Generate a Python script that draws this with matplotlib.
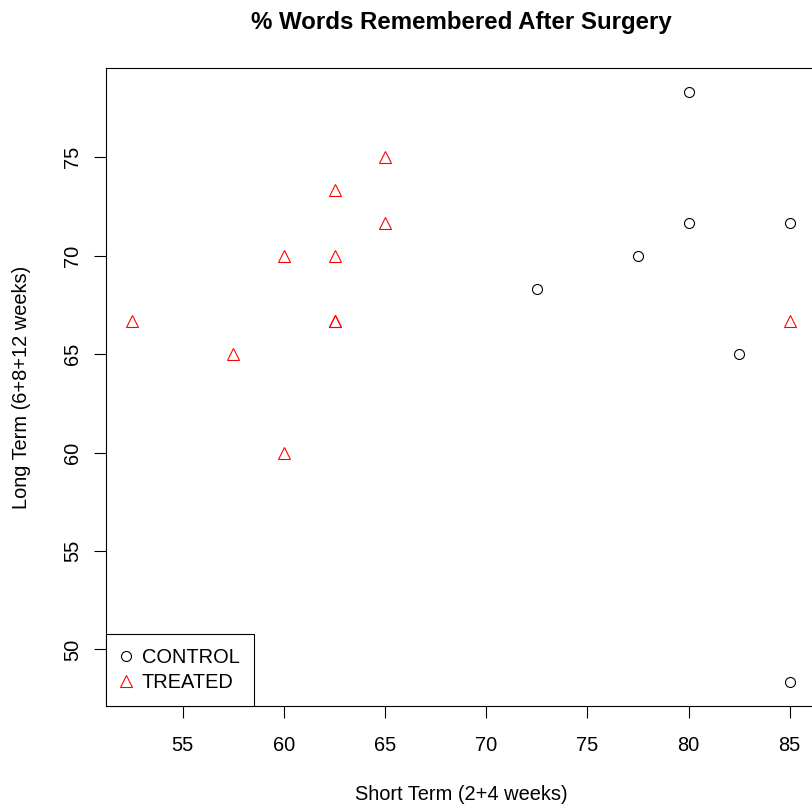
import matplotlib
matplotlib.use("Agg")
import matplotlib.pyplot as plt
from matplotlib.lines import Line2D

plt.rcParams['font.family'] = ['Liberation Sans', 'DejaVu Sans']

# control group (short term, long term)
control_short = [80, 80, 85, 77.5, 72.5, 82.5, 85]
control_long = [78.33, 71.67, 71.67, 70, 68.33, 65, 48.33]

# treated group
treated_short = [65, 62.5, 65, 60, 62.5, 52.5, 62.5, 62.5, 57.5, 60, 85]
treated_long = [75, 73.33, 71.67, 70, 70, 66.67, 66.67, 66.67, 65, 60, 66.67]

W, H = 812, 808
fig = plt.figure(figsize=(W / 72, H / 72), dpi=72)
ax = fig.add_axes([106 / W, 1 - 706 / H, (816 - 106) / W, (706 - 68) / H])

ax.plot(control_short, control_long, linestyle='none', marker='o', markersize=10,
        markerfacecolor='none', markeredgecolor='black', markeredgewidth=1.1)
ax.plot(treated_short, treated_long, linestyle='none', marker='^', markersize=12,
        markerfacecolor='none', markeredgecolor='red', markeredgewidth=1.1)

# R style 4% padding
allx = control_short + treated_short
ally = control_long + treated_long
dx = (max(allx) - min(allx)) * 0.04
dy = (max(ally) - min(ally)) * 0.04
ax.set_xlim(min(allx) - dx, max(allx) + dx)
ax.set_ylim(min(ally) - dy, max(ally) + dy)

ax.set_xticks([55, 60, 65, 70, 75, 80, 85])
ax.set_yticks([50, 55, 60, 65, 70, 75])
ax.tick_params(direction='out', length=12, width=1.1, labelsize=20)
ax.tick_params(axis='x', pad=18)
ax.tick_params(axis='y', pad=12)
for lab in ax.get_yticklabels():
    lab.set_rotation(90)
    lab.set_va('center')
for s in ax.spines.values():
    s.set_linewidth(1.1)

ax.set_xlabel('Short Term (2+4 weeks)', fontsize=20, labelpad=30)
ax.set_ylabel('Long Term (6+8+12 weeks)', fontsize=20, labelpad=32)
ax.set_title('% Words Remembered After Surgery', fontsize=24, fontweight='bold', pad=39)

handles = [
    Line2D([], [], linestyle='none', marker='o', markersize=10, markerfacecolor='none',
           markeredgecolor='black', markeredgewidth=1.1, label='CONTROL'),
    Line2D([], [], linestyle='none', marker='^', markersize=12, markerfacecolor='none',
           markeredgecolor='red', markeredgewidth=1.1, label='TREATED'),
]
leg = ax.legend(handles=handles, loc='lower left', borderaxespad=0, fontsize=20,
                fancybox=False, framealpha=1, edgecolor='black', handlelength=0.6,
                handletextpad=0.5, borderpad=0.7, labelspacing=0.28)
leg.get_frame().set_linewidth(1.1)

fig.savefig('out.png', dpi=72)
